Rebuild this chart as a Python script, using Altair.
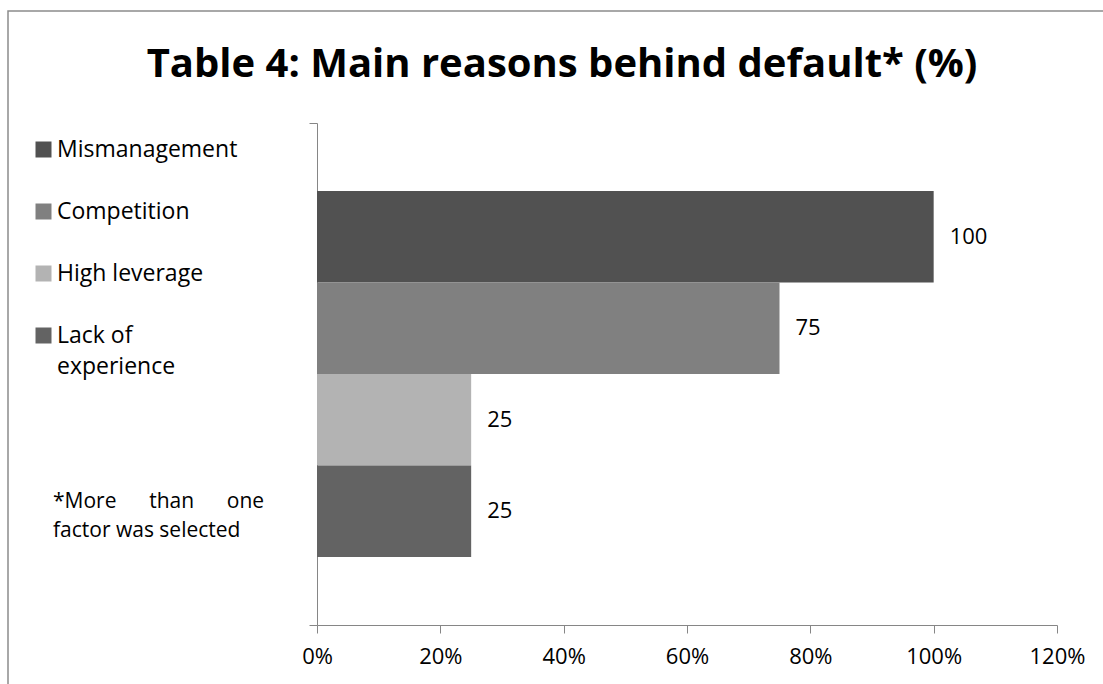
import altair as alt
import pandas as pd

reasons = ["Mismanagement", "Competition", "High leverage", "Lack of experience"]
values = [100, 75, 25, 25]
colors = ["#515151", "#808080", "#b3b3b3", "#636363"]
x_ticks = [0, 0.2, 0.4, 0.6, 0.8, 1.0, 1.2]
title_text = "Table 4: Main reasons behind default* (%)"
note_lines = ["*More\u00a0\u00a0\u00a0\u00a0\u00a0\u00a0than\u00a0\u00a0\u00a0\u00a0\u00a0\u00a0one",
              "factor was selected"]

df = pd.DataFrame({"reason": reasons, "value": values})
df["share"] = df["value"] / 100

FONT = "Open Sans"
GRAY = "#868686"

base = alt.Chart(df).encode(
    y=alt.Y("reason:N", sort=reasons,
            scale=alt.Scale(paddingInner=0, paddingOuter=0.743),
            axis=None),
)

bars = base.mark_bar().encode(
    x=alt.X("share:Q",
            scale=alt.Scale(domain=[0, 1.2], nice=False),
            axis=alt.Axis(values=x_ticks, format="%", grid=False, title=None,
                          domainColor=GRAY, tickColor=GRAY, tickSize=8,
                          labelFont=FONT, labelFontSize=22, labelColor="black",
                          labelPadding=13, labelFlush=False)),
    color=alt.Color("reason:N",
                    scale=alt.Scale(domain=reasons, range=colors),
                    legend=alt.Legend(
                        title=None, orient="none", legendX=-285, legendY=15,
                        symbolType="square", symbolSize=256, symbolStrokeWidth=0,
                        labelFont=FONT, labelFontSize=23, labelColor="black",
                        labelOffset=2, rowPadding=38, padding=0, labelLimit=300,
                        labelExpr="datum.label == 'Lack of experience' ? ['Lack of', 'experience'] : datum.label")),
)

labels = base.mark_text(align="left", dx=16, font=FONT, fontSize=22, color="black").encode(
    x="share:Q",
    text="value:Q",
)

data_layer = alt.layer(bars, labels)

yaxis = alt.Chart(pd.DataFrame({"edge": [0, 1]})).mark_point(opacity=0).encode(
    y=alt.Y("edge:Q", scale=alt.Scale(domain=[0, 1], nice=False),
            axis=alt.Axis(values=[0, 1], labels=False, grid=False, title=None,
                          domainColor=GRAY, tickColor=GRAY, tickSize=8)),
)

note = alt.Chart(pd.DataFrame({"n": [0]})).mark_text(
    align="left", baseline="alphabetic", font=FONT, fontSize=21, lineHeight=29, color="black"
).encode(x=alt.value(-264), y=alt.value(385), text=alt.value(note_lines))

title = alt.Chart(pd.DataFrame({"n": [0]})).mark_text(
    align="center", baseline="alphabetic", font=FONT, fontSize=40, fontWeight="bold", color="black"
).encode(x=alt.value(245), y=alt.value(-46), text=alt.value(title_text))

frame = alt.Chart(pd.DataFrame({"n": [0]})).mark_rect(
    fill=None, stroke="#8c8c8c", strokeWidth=1.5
).encode(x=alt.value(-309), y=alt.value(-112), x2=alt.value(820), y2=alt.value(600))

chart = alt.layer(frame, data_layer, yaxis, note, title).resolve_scale(y="independent").properties(
    width=740, height=502,
    autosize=alt.AutoSizeParams(type="none"),
    padding={"left": 317, "top": 123, "right": 46, "bottom": 59},
).configure(
    style={"guide-label": {"lineHeight": 31}},
    view=alt.ViewConfig(stroke=None),
)

chart.save("out.html", embed_options={"renderer": "svg", "actions": False})
